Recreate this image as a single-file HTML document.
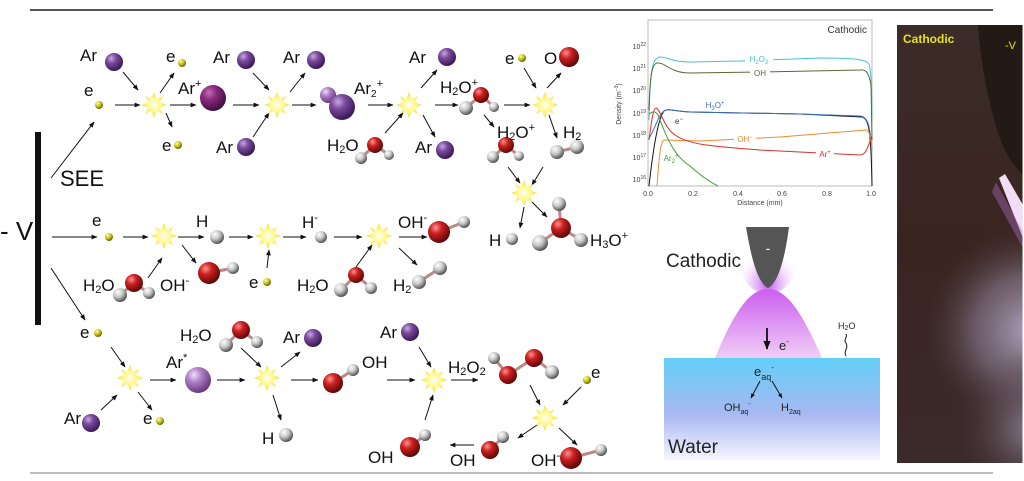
<!DOCTYPE html>
<html><head><meta charset="utf-8"><style>
html,body{margin:0;padding:0;background:#fff;}
svg{display:block;}
text{font-family:"Liberation Sans",sans-serif;}
.l{font-size:17px;fill:#111;}
</style></head><body>
<svg width="1024" height="481" viewBox="0 0 1024 481" xmlns="http://www.w3.org/2000/svg">
<defs>
<marker id="a" viewBox="0 0 10 10" refX="9" refY="5" markerWidth="6" markerHeight="6" orient="auto"><path d="M0,1 L10,5 L0,9 z" fill="#111"/></marker>
<marker id="a2" viewBox="0 0 10 10" refX="9" refY="5" markerWidth="5" markerHeight="5" orient="auto"><path d="M0,1 L10,5 L0,9 z" fill="#111"/></marker>
<radialGradient id="gP" cx="35%" cy="30%" r="70%"><stop offset="0" stop-color="#c9a8e0"/><stop offset="0.4" stop-color="#7a4a9e"/><stop offset="1" stop-color="#3a1a55"/></radialGradient>
<radialGradient id="gM" cx="35%" cy="30%" r="70%"><stop offset="0" stop-color="#c070b0"/><stop offset="0.4" stop-color="#8a2a80"/><stop offset="1" stop-color="#401040"/></radialGradient>
<radialGradient id="gL" cx="35%" cy="30%" r="70%"><stop offset="0" stop-color="#f0e0f5"/><stop offset="0.4" stop-color="#b080c8"/><stop offset="1" stop-color="#6a3a80"/></radialGradient>
<radialGradient id="gR" cx="35%" cy="30%" r="70%"><stop offset="0" stop-color="#ff9090"/><stop offset="0.4" stop-color="#cc2020"/><stop offset="1" stop-color="#600808"/></radialGradient>
<radialGradient id="gW" cx="35%" cy="30%" r="70%"><stop offset="0" stop-color="#ffffff"/><stop offset="0.5" stop-color="#c8c8c8"/><stop offset="1" stop-color="#555"/></radialGradient>
<radialGradient id="gY" cx="35%" cy="30%" r="70%"><stop offset="0" stop-color="#ffffa0"/><stop offset="0.5" stop-color="#c8c820"/><stop offset="1" stop-color="#6a6a00"/></radialGradient>
<radialGradient id="gS" cx="50%" cy="50%" r="50%"><stop offset="0" stop-color="#ffffff"/><stop offset="0.5" stop-color="#fff88a"/><stop offset="1" stop-color="#f2e040"/></radialGradient>
<g id="st"><polygon fill="url(#gS)" points="0,-13 3,-6 9,-9 6,-3 13,0 6,3 9,9 3,6 0,13 -3,6 -9,9 -6,3 -13,0 -6,-3 -9,-9 -3,-6"/></g>
<linearGradient id="wat" x1="0" y1="0" x2="0" y2="1"><stop offset="0" stop-color="#62cff7"/><stop offset="0.55" stop-color="#a8b8f2"/><stop offset="1" stop-color="#f6f4ff"/></linearGradient>
<linearGradient id="glow" x1="0" y1="0" x2="0" y2="1"><stop offset="0" stop-color="#cc5ef0"/><stop offset="1" stop-color="#f0cdf5"/></linearGradient>
<radialGradient id="tipg" cx="50%" cy="85%" r="60%"><stop offset="0" stop-color="#c050f0"/><stop offset="1" stop-color="#ffffff" stop-opacity="0"/></radialGradient>
<linearGradient id="ph" x1="0" y1="0" x2="0" y2="1"><stop offset="0" stop-color="#3a2c28"/><stop offset="0.5" stop-color="#3a2420"/><stop offset="1" stop-color="#3a2a2a"/></linearGradient>
<radialGradient id="phg" gradientUnits="userSpaceOnUse" cx="1030" cy="330" r="110"><stop offset="0" stop-color="#b4a8c4" stop-opacity="0.95"/><stop offset="0.5" stop-color="#8a7c92" stop-opacity="0.6"/><stop offset="1" stop-color="#3a2828" stop-opacity="0"/></radialGradient>
<radialGradient id="phg2" gradientUnits="userSpaceOnUse" cx="1030" cy="430" r="80"><stop offset="0" stop-color="#9a90a8" stop-opacity="0.8"/><stop offset="1" stop-color="#3a2828" stop-opacity="0"/></radialGradient>
</defs>

<line x1="30" y1="10" x2="993" y2="10" stroke="#555" stroke-width="2"/>
<line x1="30" y1="473" x2="993" y2="473" stroke="#bbb" stroke-width="2"/>

<text x="0" y="240" font-size="26" fill="#111">- V</text>
<rect x="35" y="132" width="6" height="193" fill="#111"/>
<text x="60" y="186" font-size="22" fill="#111">SEE</text>

<g stroke="#111" stroke-width="1" fill="none" marker-end="url(#a)">
<line x1="51" y1="178" x2="94" y2="122"/>
<line x1="115" y1="105" x2="140" y2="105"/>
<line x1="123" y1="72" x2="138" y2="90"/>
<line x1="160" y1="93" x2="174" y2="73"/>
<line x1="166" y1="113" x2="172" y2="127"/>
<line x1="170" y1="105" x2="196" y2="105"/>
<line x1="233" y1="105" x2="259" y2="105"/>
<line x1="253" y1="73" x2="269" y2="90"/>
<line x1="290" y1="92" x2="305" y2="73"/>
<line x1="253" y1="137" x2="269" y2="113"/>
<line x1="292" y1="105" x2="316" y2="105"/>
<line x1="368" y1="105" x2="393" y2="105"/>
<line x1="421" y1="88" x2="437" y2="70"/>
<line x1="385" y1="133" x2="403" y2="113"/>
<line x1="423" y1="115" x2="435" y2="137"/>
<line x1="435" y1="105" x2="458" y2="105"/>
<line x1="504" y1="105" x2="530" y2="105"/>
<line x1="524" y1="68" x2="536" y2="88"/>
<line x1="547" y1="88" x2="561" y2="73"/>
<line x1="484" y1="115" x2="494" y2="127"/>
<line x1="549" y1="115" x2="557" y2="138"/>
<line x1="508" y1="167" x2="520" y2="183"/>
<line x1="543" y1="167" x2="532" y2="185"/>
<line x1="524" y1="207" x2="520" y2="228"/>
<line x1="532" y1="202" x2="547" y2="217"/>
<line x1="52" y1="237" x2="97" y2="237"/>
<line x1="123" y1="237" x2="148" y2="237"/>
<line x1="148" y1="278" x2="162" y2="258"/>
<line x1="182" y1="245" x2="196" y2="263"/>
<line x1="178" y1="237" x2="204" y2="237"/>
<line x1="229" y1="237" x2="253" y2="237"/>
<line x1="267" y1="268" x2="269" y2="250"/>
<line x1="283" y1="237" x2="306" y2="237"/>
<line x1="334" y1="237" x2="362" y2="237"/>
<line x1="356" y1="267" x2="372" y2="245"/>
<line x1="399" y1="237" x2="427" y2="237"/>
<line x1="399" y1="248" x2="417" y2="265"/>
<line x1="51" y1="268" x2="85" y2="320"/>
<line x1="111" y1="347" x2="125" y2="367"/>
<line x1="101" y1="410" x2="117" y2="395"/>
<line x1="138" y1="392" x2="152" y2="410"/>
<line x1="150" y1="380" x2="176" y2="380"/>
<line x1="217" y1="380" x2="245" y2="380"/>
<line x1="241" y1="348" x2="261" y2="367"/>
<line x1="281" y1="367" x2="300" y2="352"/>
<line x1="273" y1="395" x2="281" y2="420"/>
<line x1="291" y1="380" x2="318" y2="380"/>
<line x1="387" y1="380" x2="415" y2="380"/>
<line x1="419" y1="347" x2="431" y2="367"/>
<line x1="425" y1="420" x2="433" y2="395"/>
<line x1="451" y1="380" x2="478" y2="380"/>
<line x1="581" y1="387" x2="563" y2="405"/>
<line x1="530" y1="385" x2="540" y2="405"/>
<line x1="537" y1="425" x2="518" y2="438"/>
<line x1="474" y1="445" x2="450" y2="445"/>
<line x1="559" y1="428" x2="577" y2="445"/>
</g>

<use href="#st" x="154" y="105"/><use href="#st" x="277" y="105"/><use href="#st" x="409" y="105"/><use href="#st" x="545" y="105"/><use href="#st" x="524" y="193"/>
<use href="#st" x="164" y="236"/><use href="#st" x="268" y="236"/><use href="#st" x="379" y="236"/>
<use href="#st" x="130" y="378"/><use href="#st" x="267" y="378"/><use href="#st" x="434" y="380"/><use href="#st" x="545" y="418"/>

<g stroke="#b88" stroke-width="3">
<line x1="375" y1="145" x2="361" y2="158"/><line x1="375" y1="145" x2="389" y2="155"/>
<line x1="481" y1="95" x2="466" y2="108"/><line x1="481" y1="95" x2="494" y2="107"/>
<line x1="506" y1="145" x2="493" y2="157"/><line x1="506" y1="145" x2="519" y2="156"/>
<line x1="557" y1="152" x2="577" y2="147"/>
<line x1="561" y1="228" x2="559" y2="204"/><line x1="561" y1="228" x2="540" y2="243"/><line x1="561" y1="228" x2="581" y2="240"/>
<line x1="134" y1="283" x2="120" y2="295"/><line x1="134" y1="283" x2="149" y2="293"/>
<line x1="209" y1="273" x2="233" y2="268"/>
<line x1="356" y1="275" x2="341" y2="290"/><line x1="356" y1="275" x2="371" y2="288"/>
<line x1="439" y1="232" x2="464" y2="222"/>
<line x1="419" y1="282" x2="440" y2="268"/>
<line x1="241" y1="330" x2="226" y2="345"/><line x1="241" y1="330" x2="257" y2="342"/>
<line x1="333" y1="383" x2="353" y2="370"/>
<line x1="410" y1="447" x2="425" y2="435"/>
<line x1="494" y1="358" x2="508" y2="375"/><line x1="508" y1="375" x2="534" y2="358"/><line x1="534" y1="358" x2="552" y2="372"/>
<line x1="490" y1="450" x2="503" y2="437"/>
<line x1="571" y1="458" x2="601" y2="450"/>
</g>

<g fill="url(#gP)">
<circle cx="114" cy="62" r="9"/><circle cx="246" cy="60" r="9"/><circle cx="316" cy="60" r="9"/><circle cx="246" cy="147" r="9"/>
<circle cx="447" cy="57" r="9"/><circle cx="445" cy="150" r="9"/>
<circle cx="313" cy="338" r="9"/><circle cx="410" cy="332" r="9"/><circle cx="91" cy="423" r="9"/>
</g>
<circle cx="213" cy="98" r="13" fill="url(#gM)"/>
<circle cx="328" cy="95" r="8" fill="url(#gL)"/><circle cx="342" cy="107" r="13" fill="url(#gP)"/>
<circle cx="198" cy="380" r="13" fill="url(#gL)"/>
<g fill="url(#gY)">
<circle cx="99" cy="105" r="4"/><circle cx="182" cy="63" r="4"/><circle cx="178" cy="145" r="4"/><circle cx="522" cy="58" r="4"/>
<circle cx="109" cy="237" r="4"/><circle cx="267" cy="282" r="4"/><circle cx="98" cy="333" r="4"/><circle cx="160" cy="421" r="4"/><circle cx="587" cy="380" r="4"/>
</g>
<g fill="url(#gW)">
<circle cx="361" cy="158" r="6"/><circle cx="389" cy="155" r="5"/>
<circle cx="466" cy="108" r="7"/><circle cx="494" cy="107" r="5"/>
<circle cx="493" cy="157" r="6"/><circle cx="519" cy="156" r="5"/>
<circle cx="557" cy="152" r="7"/><circle cx="577" cy="147" r="7"/>
<circle cx="512" cy="239" r="6"/>
<circle cx="559" cy="204" r="7"/><circle cx="540" cy="243" r="8"/><circle cx="581" cy="240" r="7"/>
<circle cx="120" cy="295" r="7"/><circle cx="149" cy="293" r="6"/><circle cx="233" cy="268" r="6"/>
<circle cx="217" cy="237" r="7"/><circle cx="321" cy="237" r="6"/>
<circle cx="341" cy="290" r="7"/><circle cx="371" cy="288" r="6"/><circle cx="464" cy="222" r="6"/>
<circle cx="419" cy="282" r="7"/><circle cx="440" cy="268" r="7"/>
<circle cx="226" cy="345" r="7"/><circle cx="257" cy="342" r="6"/><circle cx="286" cy="435" r="7"/>
<circle cx="353" cy="370" r="6"/><circle cx="425" cy="435" r="6"/>
<circle cx="494" cy="358" r="6"/><circle cx="552" cy="372" r="7"/><circle cx="503" cy="437" r="6"/><circle cx="601" cy="450" r="6"/>
</g>
<g fill="url(#gR)">
<circle cx="375" cy="145" r="8"/><circle cx="481" cy="95" r="8"/><circle cx="506" cy="145" r="8"/><circle cx="569" cy="57" r="10"/>
<circle cx="561" cy="228" r="10"/><circle cx="134" cy="283" r="9"/><circle cx="209" cy="273" r="11"/>
<circle cx="356" cy="275" r="8"/><circle cx="439" cy="232" r="11"/>
<circle cx="241" cy="330" r="9"/><circle cx="333" cy="383" r="10"/><circle cx="410" cy="447" r="10"/>
<circle cx="508" cy="375" r="9"/><circle cx="534" cy="358" r="9"/><circle cx="490" cy="450" r="9"/><circle cx="571" cy="458" r="11"/>
</g>

<g class="l">
<text x="80" y="61">Ar</text>
<text x="84" y="96">e</text>
<text x="166" y="62">e</text>
<text x="162" y="151">e</text>
<text x="178" y="94">Ar<tspan font-size="11" dy="-7">+</tspan></text>
<text x="213" y="63">Ar</text>
<text x="283" y="63">Ar</text>
<text x="216" y="153">Ar</text>
<text x="354" y="94">Ar<tspan font-size="10" dy="3">2</tspan><tspan font-size="11" dy="-10">+</tspan></text>
<text x="409" y="63">Ar</text>
<text x="327" y="151">H<tspan font-size="11" dy="2">2</tspan><tspan dy="-2">O</tspan></text>
<text x="415" y="153">Ar</text>
<text x="440" y="93">H<tspan font-size="11" dy="2">2</tspan><tspan dy="-2">O</tspan><tspan font-size="11" dy="-7">+</tspan></text>
<text x="505" y="64">e</text>
<text x="544" y="64">O</text>
<text x="497" y="138">H<tspan font-size="11" dy="2">2</tspan><tspan dy="-2">O</tspan><tspan font-size="11" dy="-7">+</tspan></text>
<text x="563" y="138">H<tspan font-size="11" dy="2">2</tspan></text>
<text x="489" y="246">H</text>
<text x="590" y="246">H<tspan font-size="11" dy="2">3</tspan><tspan dy="-2">O</tspan><tspan font-size="11" dy="-7">+</tspan></text>
<text x="92" y="226">e</text>
<text x="196" y="227">H</text>
<text x="302" y="228">H<tspan font-size="11" dy="-7">-</tspan></text>
<text x="398" y="228">OH<tspan font-size="11" dy="-7">-</tspan></text>
<text x="83" y="291">H<tspan font-size="11" dy="2">2</tspan><tspan dy="-2">O</tspan></text>
<text x="160" y="291">OH<tspan font-size="11" dy="-7">-</tspan></text>
<text x="249" y="288">e</text>
<text x="297" y="291">H<tspan font-size="11" dy="2">2</tspan><tspan dy="-2">O</tspan></text>
<text x="393" y="291">H<tspan font-size="11" dy="2">2</tspan></text>
<text x="80" y="338">e</text>
<text x="180" y="341">H<tspan font-size="11" dy="2">2</tspan><tspan dy="-2">O</tspan></text>
<text x="283" y="343">Ar</text>
<text x="380" y="338">Ar</text>
<text x="166" y="368">Ar<tspan font-size="11" dy="-7">*</tspan></text>
<text x="362" y="368">OH</text>
<text x="448" y="373">H<tspan font-size="11" dy="2">2</tspan><tspan dy="-2">O</tspan><tspan font-size="11" dy="2">2</tspan></text>
<text x="591" y="378">e</text>
<text x="64" y="424">Ar</text>
<text x="143" y="424">e</text>
<text x="262" y="444">H</text>
<text x="368" y="463">OH</text>
<text x="450" y="466">OH</text>
<text x="531" y="466">OH<tspan font-size="11" dy="-7">-</tspan></text>
</g>

<rect x="648" y="20" width="224" height="166" fill="#fff" stroke="#bbb" stroke-width="1"/>
<text x="867" y="33" font-size="10" fill="#333" text-anchor="end">Cathodic</text>
<g font-size="7" fill="#444" text-anchor="end">
<text x="646" y="49">10<tspan font-size="5" dy="-3">22</tspan></text>
<text x="646" y="71">10<tspan font-size="5" dy="-3">21</tspan></text>
<text x="646" y="93">10<tspan font-size="5" dy="-3">20</tspan></text>
<text x="646" y="116">10<tspan font-size="5" dy="-3">19</tspan></text>
<text x="646" y="138">10<tspan font-size="5" dy="-3">18</tspan></text>
<text x="646" y="160">10<tspan font-size="5" dy="-3">17</tspan></text>
<text x="646" y="182">10<tspan font-size="5" dy="-3">16</tspan></text>
</g>
<text transform="translate(621,104) rotate(-90)" font-size="7" fill="#444" text-anchor="middle">Density (m<tspan font-size="5" dy="-3">−3</tspan><tspan dy="3">)</tspan></text>
<g font-size="7" fill="#444" text-anchor="middle">
<text x="648" y="196">0.0</text><text x="693" y="196">0.2</text><text x="738" y="196">0.4</text><text x="782" y="196">0.6</text><text x="827" y="196">0.8</text><text x="871" y="196">1.0</text>
<text x="760" y="205">Distance (mm)</text>
</g>
<g fill="none" stroke-width="1">
<path d="M649,120 C650,70 652,58 660,57 C668,57 672,62 690,62 L740,61 L820,58 C860,58 866,60 869,64 C871,70 872,90 872,120" stroke="#4ac0d8"/>
<path d="M649,110 C650,75 652,64 657,63 C665,62 670,73 690,73 L760,72 L860,70 C867,69 869,74 871,85 L872,140" stroke="#5a6a30"/>
<path d="M649,186 C653,150 658,118 664,111 C668,108 672,111 690,112 L800,114 L862,117 C869,119 871,130 872,186" stroke="#111"/>
<path d="M649,138 C654,132 658,115 664,111 C668,108 672,111 690,112 L800,114 L860,116 C868,117 870,125 872,150" stroke="#3a70c0"/>
<path d="M657,186 C659,160 660,142 664,140 L700,141 L780,137 L866,130 C870,130 871,140 872,150" stroke="#f08a30"/>
<path d="M649,140 C651,125 653,108 656,108 C660,108 664,128 675,135 C690,145 710,146 760,150 L860,155 C868,155 869,140 872,136" stroke="#d83030"/>
<path d="M649,114 C652,112 655,110 658,115 C664,130 672,155 690,166 C700,175 710,182 718,186" stroke="#40a040"/>
</g>
<g font-size="8" text-anchor="middle">
<rect x="745" y="54" width="28" height="9" fill="#fff"/><text x="759" y="62" fill="#4ac0d8">H<tspan font-size="6" dy="2">2</tspan><tspan dy="-2">O</tspan><tspan font-size="6" dy="2">2</tspan></text>
<rect x="750" y="68" width="20" height="9" fill="#fff"/><text x="760" y="76" fill="#5a6a30">OH</text>
<text x="715" y="108" fill="#3a70c0">H<tspan font-size="6" dy="2">3</tspan><tspan dy="-2">O</tspan><tspan font-size="6" dy="-3">+</tspan></text>
<text x="679" y="124" fill="#333">e<tspan font-size="6" dy="-3">−</tspan></text>
<rect x="734" y="134" width="22" height="9" fill="#fff"/><text x="745" y="142" fill="#f08a30">OH<tspan font-size="6" dy="-3">−</tspan></text>
<rect x="816" y="148" width="18" height="9" fill="#fff"/><text x="825" y="157" fill="#d83030">Ar<tspan font-size="6" dy="-3">+</tspan></text>
<text x="671" y="161" fill="#40a040">Ar<tspan font-size="6" dy="2">2</tspan><tspan font-size="6" dy="-5">+</tspan></text>
</g>

<ellipse cx="768" cy="262" rx="28" ry="32" fill="url(#tipg)"/>
<path d="M746,227 L789,227 C786,250 780,282 768,288 C756,282 750,250 746,227 Z" fill="#555"/>
<text x="768" y="253" font-size="14" fill="#fff" text-anchor="middle">-</text>
<text x="666" y="267" font-size="19" fill="#222">Cathodic</text>
<path d="M715,358 C735,310 750,289 768,289 C786,289 801,310 822,358 Z" fill="url(#glow)"/>
<rect x="664" y="358" width="216" height="102" fill="url(#wat)"/>
<line x1="767" y1="328" x2="767" y2="349" stroke="#111" stroke-width="1.8" marker-end="url(#a2)"/>
<text x="779" y="350" font-size="13" fill="#222">e<tspan font-size="8" dy="-6">-</tspan></text>
<text x="754" y="376" font-size="13" fill="#222">e<tspan font-size="9" dy="4">aq</tspan><tspan font-size="8" dy="-10">-</tspan></text>
<g stroke="#111" stroke-width="1" marker-end="url(#a2)"><line x1="760" y1="381" x2="751" y2="398"/><line x1="772" y1="381" x2="782" y2="398"/></g>
<text x="724" y="411" font-size="11" fill="#222">OH<tspan font-size="7" dy="3">aq</tspan><tspan font-size="7" dy="-8">-</tspan></text>
<text x="781" y="411" font-size="11" fill="#222">H<tspan font-size="7" dy="3">2aq</tspan></text>
<text x="838" y="329" font-size="9" fill="#222">H<tspan font-size="7" dy="1">2</tspan><tspan dy="-1">O</tspan></text>
<path d="M846,356 C843,351 849,348 846,343 C843,340 848,337 846,334" stroke="#111" fill="none" stroke-width="1"/>
<text x="668" y="453" font-size="19" fill="#222">Water</text>

<rect x="897" y="25" width="126" height="438" fill="url(#ph)"/>
<path d="M978,25 L1023,25 L1023,175 C1012,165 1003,150 997,130 C988,100 980,60 978,25 Z" fill="#231a16"/>
<rect x="897" y="25" width="126" height="438" fill="url(#phg)"/>
<rect x="897" y="25" width="126" height="438" fill="url(#phg2)"/>
<path d="M999,178 L1005,174 L1023,205 L1023,238 Z" fill="#f2dcf6"/>
<path d="M996,182 L1023,232 L1023,248 L992,192 Z" fill="#b070c8" opacity="0.4"/>
<line x1="1023" y1="25" x2="1023" y2="463" stroke="#fff" stroke-width="1"/>
<text x="903" y="43" font-size="12" font-weight="bold" fill="#e8e020">Cathodic</text>
<text x="1005" y="49" font-size="11" fill="#e8e020">-V</text>
</svg>
</body></html>
